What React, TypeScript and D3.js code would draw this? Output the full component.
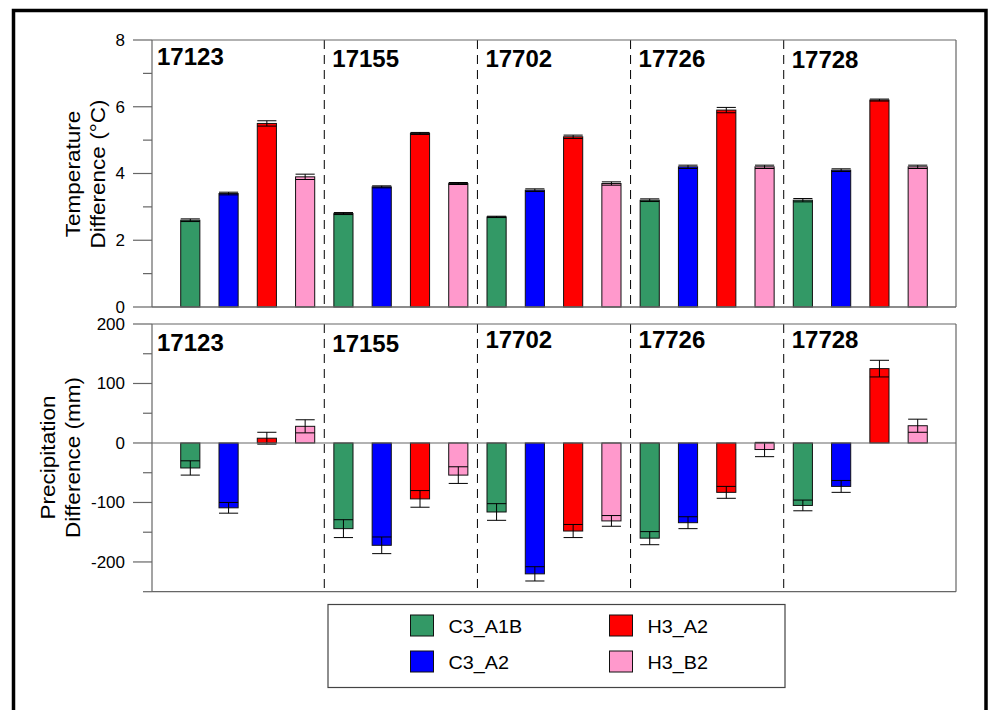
import React from "react";
import * as d3 from "d3";

const stations = ["17123", "17155", "17702", "17726", "17728"];
const scenarios = ["C3_A1B", "C3_A2", "H3_A2", "H3_B2"];
const colors = ["#339966", "#0000FF", "#FF0000", "#FF99CC"];

const tempValues = [
  [2.6, 3.4, 5.5, 3.9],
  [2.8, 3.6, 5.2, 3.7],
  [2.7, 3.5, 5.1, 3.7],
  [3.2, 4.2, 5.9, 4.2],
  [3.2, 4.1, 6.2, 4.2],
];
const tempErrors = [
  [0.04, 0.04, 0.08, 0.08],
  [0.03, 0.03, 0.03, 0.03],
  [0.02, 0.04, 0.05, 0.05],
  [0.04, 0.05, 0.08, 0.05],
  [0.05, 0.04, 0.03, 0.05],
];
const precValues = [
  [-42, -109, 8, 28],
  [-144, -172, -94, -54],
  [-116, -220, -148, -131],
  [-160, -134, -83, -11],
  [-105, -73, 125, 29],
];
const precErrors = [
  [12, 9, 10, 11],
  [15, 14, 14, 14],
  [14, 12, 11, 9],
  [11, 10, 10, 12],
  [9, 10, 14, 11],
];

const tempMajor = [0, 2, 4, 6, 8];
const tempMinor = [1, 3, 5, 7];
const precMajor = [-200, -100, 0, 100, 200];
const precMinor = [-250, -150, -50, 50, 150];

const FONT = "'Liberation Sans', Arial, Helvetica, sans-serif";
const AX = "#666";

const x = d3.scaleLinear().domain([-1, 20]).range([152, 956]);
const yT = d3.scaleLinear().domain([0, 8]).range([307, 40]);
const yP = d3.scaleLinear().domain([-250, 200]).range([591.7, 324]);
const barW = (x(1) - x(0)) * 0.5;

function Panel({
  y,
  values,
  errors,
  major,
  minor,
  labelY,
  labelDy,
  title1,
  title2,
  t1x,
  t2x,
  tcy,
}: any) {
  const [d0, d1] = y.domain();
  const top = y(d1);
  const bottom = y(d0);
  const zero = y(0);
  const left = x.range()[0];
  const right = x.range()[1];
  const bars: any[] = [];
  values.forEach((row: number[], g: number) => {
    row.forEach((v: number, s: number) => {
      const idx = g * 4 + s;
      const cx = x(idx);
      const e = errors[g][s];
      const y0 = Math.min(y(v), zero);
      const h = Math.abs(y(v) - zero);
      bars.push(
        <g key={`b${idx}`}>
          <rect
            x={cx - barW / 2}
            y={y0}
            width={barW}
            height={h}
            fill={colors[s]}
            stroke="#111"
            strokeWidth={1}
          />
          <line x1={cx} x2={cx} y1={y(v - e)} y2={y(v + e)} stroke="#000" strokeWidth={1} />
          <line x1={cx - barW / 2} x2={cx + barW / 2} y1={y(v - e)} y2={y(v - e)} stroke="#000" strokeWidth={1} />
          <line x1={cx - barW / 2} x2={cx + barW / 2} y1={y(v + e)} y2={y(v + e)} stroke="#000" strokeWidth={1} />
        </g>
      );
    });
  });
  const seps = [3.5, 7.5, 11.5, 15.5];
  return (
    <g>
      {seps.map((s) => (
        <line
          key={`s${s}`}
          x1={x(s)}
          x2={x(s)}
          y1={top}
          y2={bottom}
          stroke="#000"
          strokeWidth={1}
          strokeDasharray="9,6"
        />
      ))}
      {bars}
      <line x1={left} x2={left} y1={top} y2={bottom} stroke={AX} strokeWidth={1.2} />
      <line x1={right} x2={right} y1={top} y2={bottom} stroke={AX} strokeWidth={1.2} />
      <line x1={left} x2={right} y1={top} y2={top} stroke={AX} strokeWidth={1.2} />
      <line x1={left} x2={right} y1={bottom} y2={bottom} stroke={AX} strokeWidth={1.2} />
      <line x1={left} x2={right} y1={zero} y2={zero} stroke={AX} strokeWidth={1.2} />
      {major.map((t: number) => (
        <g key={`M${t}`}>
          <line x1={133} x2={left} y1={y(t)} y2={y(t)} stroke={AX} strokeWidth={1.2} />
          <text
            x={125}
            y={y(t)}
            dy="0.34em"
            textAnchor="end"
            fontSize={17}
            fontFamily={FONT}
            fill="#000"
          >
            {t}
          </text>
        </g>
      ))}
      {minor.map((t: number) => (
        <line key={`m${t}`} x1={143} x2={left} y1={y(t)} y2={y(t)} stroke={AX} strokeWidth={1.2} />
      ))}
      {stations.map((st, g) => (
        <text
          key={`l${st}`}
          x={g === 0 ? 157 : x(g * 4 - 0.5) + 8}
          y={labelY + labelDy[g]}
          fontSize={24}
          fontWeight="bold"
          fontFamily={FONT}
          fill="#000"
        >
          {st}
        </text>
      ))}
      <text
        transform={`translate(${t1x},${tcy}) rotate(-90) scale(1.1,1)`}
        textAnchor="middle"
        fontSize={20.5}
        fontFamily={FONT}
        fill="#000"
      >
        {title1}
      </text>
      <text
        transform={`translate(${t2x},${tcy}) rotate(-90) scale(1.1,1)`}
        textAnchor="middle"
        fontSize={20.5}
        fontFamily={FONT}
        fill="#000"
      >
        {title2}
      </text>
    </g>
  );
}

export default function App() {
  const legendCols = [410.5, 609.5];
  const legendRows = [615, 651];
  return (
    <svg
      width={989}
      height={710}
      style={{ position: "absolute", left: 0, top: 0, background: "#fff" }}
    >
      <rect x={0} y={0} width={989} height={710} fill="#fff" />
      <path d="M13.5,720 L13.5,10.5 L986,10.5 L986,720" fill="none" stroke="#000" strokeWidth={3.5} />
      <Panel
        y={yT}
        values={tempValues}
        errors={tempErrors}
        major={tempMajor}
        minor={tempMinor}
        labelY={65}
        labelDy={[0, 1.5, 1.5, 1.5, 2.5]}
        title1="Temperature"
        title2="Difference (°C)"
        t1x={80}
        t2x={105}
        tcy={174}
      />
      <Panel
        y={yP}
        values={precValues}
        errors={precErrors}
        major={precMajor}
        minor={precMinor}
        labelY={347.5}
        labelDy={[3, 4.5, 0, 0, 0]}
        title1="Precipitation"
        title2="Difference (mm)"
        t1x={55}
        t2x={80}
        tcy={457.5}
      />
      <rect x={328} y={604.5} width={457} height={83} fill="#fff" stroke="#444" strokeWidth={1.2} />
      {scenarios.map((sc, i) => {
        const col = Math.floor(i / 2);
        const row = i % 2;
        return (
          <g key={sc}>
            <rect
              x={legendCols[col]}
              y={legendRows[row]}
              width={23}
              height={21}
              fill={colors[i]}
              stroke="#111"
              strokeWidth={1}
            />
            <text
              transform={`translate(${legendCols[col] + 38},${legendRows[row] + 18.3}) scale(1.1,1)`}
              fontSize={18}
              fontFamily={FONT}
              fill="#000"
            >
              {sc}
            </text>
          </g>
        );
      })}
    </svg>
  );
}
